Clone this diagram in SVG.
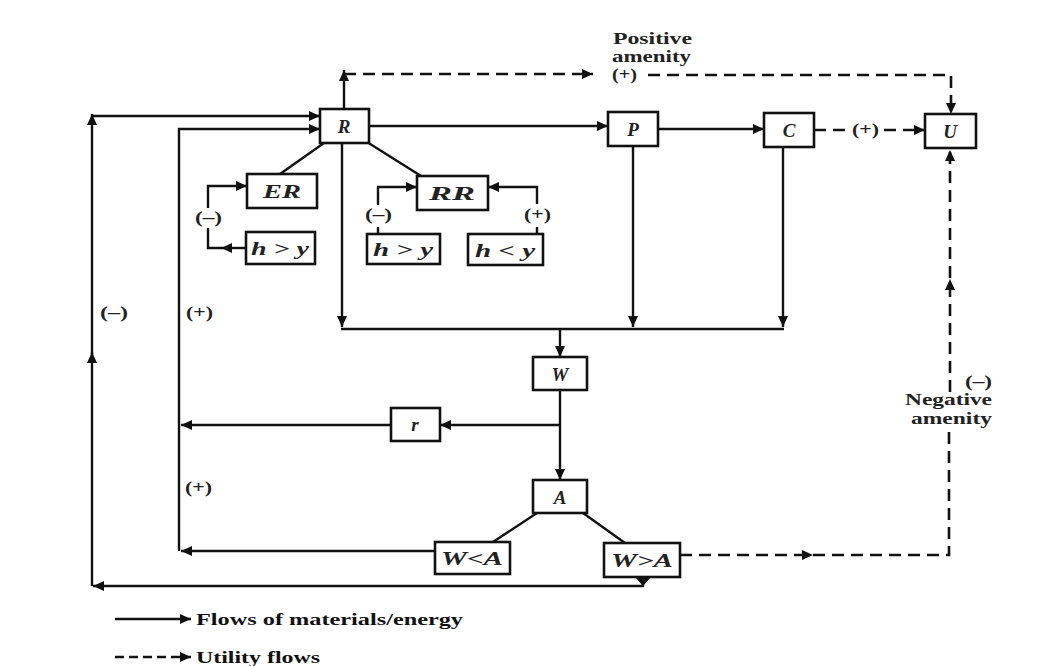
<svg xmlns="http://www.w3.org/2000/svg" width="1041" height="666" viewBox="0 0 1041 666">
<style>
.bg{fill:#fff}
.box{fill:#fff;stroke:#111;stroke-width:2.6}
.ln{fill:none;stroke:#111;stroke-width:2.4}
.ds{fill:none;stroke:#111;stroke-width:2.6;stroke-dasharray:12 7}
.ah{fill:#111}
.bt{font-family:"Liberation Serif",serif;font-weight:bold;font-style:italic;font-size:19px;fill:#222;text-anchor:middle}
.lb{font-family:"Liberation Serif",serif;font-weight:bold;font-size:16px;fill:#222}
.lg{font-family:"Liberation Serif",serif;font-weight:bold;font-size:17px;fill:#111}
</style>
<defs>
<marker id="ah" markerUnits="userSpaceOnUse" markerWidth="11" markerHeight="10" refX="11" refY="5" orient="auto">
<path d="M0,0 L11,5 L0,10 z" fill="#111"/>
</marker>
</defs>
<rect class="bg" x="0" y="0" width="1041" height="666"/>

<g id="connectors">
<path class="ln" d="M643,577 V586 H93" marker-end="url(#ah)"/>
<polygon class="ah" points="635,577 651,577 643,586"/>
<path class="ln" d="M92,586 V352" marker-end="url(#ah)"/>
<path class="ln" d="M92,354 V114" marker-end="url(#ah)"/>
<path class="ln" d="M92,116 H320" marker-end="url(#ah)"/>
<path class="ln" d="M435,551 H181" marker-end="url(#ah)"/>
<path class="ln" d="M391,425 H181" marker-end="url(#ah)"/>
<path class="ln" d="M179,551 V129 H320" marker-end="url(#ah)"/>
<path class="ln" d="M369,126 H608" marker-end="url(#ah)"/>
<path class="ln" d="M658,129 H764" marker-end="url(#ah)"/>
<path class="ds" d="M814,130 H846"/>
<path class="ds" d="M884,130 H925" marker-end="url(#ah)"/>
<path class="ln" d="M344,109 V70" marker-end="url(#ah)"/>
<path class="ds" d="M344,74 H593" marker-end="url(#ah)"/>
<path class="ds" d="M648,75 H951 V114" marker-end="url(#ah)"/>
<path class="ln" d="M324,143 L280,174"/>
<path class="ln" d="M367,142 L421,176"/>
<path class="ln" d="M246,248 H221" marker-end="url(#ah)"/>
<path class="ln" d="M222,248 H208 V228"/>
<path class="ln" d="M208,208 V186 H247" marker-end="url(#ah)"/>
<path class="ln" d="M378,234 V227"/>
<path class="ln" d="M378,205 V187 H417" marker-end="url(#ah)"/>
<path class="ln" d="M537,234 V227"/>
<path class="ln" d="M537,204 V187 H488" marker-end="url(#ah)"/>
<path class="ln" d="M342,143 V327" marker-end="url(#ah)"/>
<path class="ln" d="M341,329 H784"/>
<path class="ln" d="M633,146 V327" marker-end="url(#ah)"/>
<path class="ln" d="M783,147 V327" marker-end="url(#ah)"/>
<path class="ln" d="M560,329 V357" marker-end="url(#ah)"/>
<path class="ln" d="M560,390 V480" marker-end="url(#ah)"/>
<path class="ln" d="M560,425 H440" marker-end="url(#ah)"/>
<path class="ln" d="M537,513 L493,542"/>
<path class="ln" d="M583,513 L625,543"/>
<path class="ds" d="M680,555 H813" marker-end="url(#ah)"/>
<path class="ds" d="M813,555 H949 V432"/>
<path class="ds" d="M950,392 V150" marker-end="url(#ah)"/>
<polygon class="ah" points="945,290 955,290 950,279"/>
<path class="ln" d="M115,619 H191" marker-end="url(#ah)"/>
<path class="ds" d="M115,657 H191" marker-end="url(#ah)" style="stroke-dasharray:9 5"/>
</g>

<g id="node-R"><rect class="box" x="320" y="109" width="49" height="34"/><text class="bt" x="344" y="133">R</text></g>
<g id="node-P"><rect class="box" x="608" y="112" width="50" height="34"/><text class="bt" x="633" y="136">P</text></g>
<g id="node-C"><rect class="box" x="764" y="113" width="50" height="34"/><text class="bt" x="789" y="137">C</text></g>
<g id="node-U"><rect class="box" x="925" y="114" width="51" height="34"/><text class="bt" x="950" y="138">U</text></g>
<g id="node-ER"><rect class="box" x="247" y="174" width="70" height="34"/><text class="bt" x="282" y="198" textLength="38" lengthAdjust="spacingAndGlyphs">ER</text></g>
<g id="node-hgy1"><rect class="box" x="246" y="232" width="69" height="32"/><text class="bt" x="280" y="255" textLength="58" lengthAdjust="spacingAndGlyphs">h &gt; y</text></g>
<g id="node-RR"><rect class="box" x="417" y="176" width="71" height="34"/><text class="bt" x="452" y="200" textLength="46" lengthAdjust="spacingAndGlyphs">RR</text></g>
<g id="node-hgy2"><rect class="box" x="367" y="234" width="73" height="30"/><text class="bt" x="403" y="256" textLength="60" lengthAdjust="spacingAndGlyphs">h &gt; y</text></g>
<g id="node-hly"><rect class="box" x="468" y="234" width="75" height="31"/><text class="bt" x="505" y="257" textLength="60" lengthAdjust="spacingAndGlyphs">h &lt; y</text></g>
<g id="node-W"><rect class="box" x="533" y="357" width="54" height="33"/><text class="bt" x="560" y="381">W</text></g>
<g id="node-r"><rect class="box" x="391" y="408" width="49" height="33"/><text class="bt" x="415" y="431">r</text></g>
<g id="node-A"><rect class="box" x="533" y="480" width="54" height="33"/><text class="bt" x="560" y="504">A</text></g>
<g id="node-WlA"><rect class="box" x="435" y="542" width="75" height="32"/><text class="bt" x="472" y="565" textLength="62" lengthAdjust="spacingAndGlyphs">W&lt;A</text></g>
<g id="node-WgA"><rect class="box" x="604" y="543" width="76" height="34"/><text class="bt" x="642" y="567" textLength="62" lengthAdjust="spacingAndGlyphs">W&gt;A</text></g>

<g id="labels">
<text class="lb" x="613" y="44" textLength="79" lengthAdjust="spacingAndGlyphs">Positive</text>
<text class="lb" x="612" y="62" textLength="79" lengthAdjust="spacingAndGlyphs">amenity</text>
<text class="lb" x="612" y="80" textLength="25" lengthAdjust="spacingAndGlyphs">(+)</text>
<text class="lb" x="852" y="135" textLength="27" lengthAdjust="spacingAndGlyphs">(+)</text>
<text class="lb" x="195" y="223" textLength="27" lengthAdjust="spacingAndGlyphs">(–)</text>
<text class="lb" x="365" y="220" textLength="27" lengthAdjust="spacingAndGlyphs">(–)</text>
<text class="lb" x="524" y="220" textLength="27" lengthAdjust="spacingAndGlyphs">(+)</text>
<text class="lb" x="100" y="318" textLength="28" lengthAdjust="spacingAndGlyphs">(–)</text>
<text class="lb" x="186" y="318" textLength="27" lengthAdjust="spacingAndGlyphs">(+)</text>
<text class="lb" x="185" y="493" textLength="27" lengthAdjust="spacingAndGlyphs">(+)</text>
<text class="lb" x="965" y="387" textLength="27" lengthAdjust="spacingAndGlyphs">(–)</text>
<text class="lb" x="905" y="405" textLength="87" lengthAdjust="spacingAndGlyphs">Negative</text>
<text class="lb" x="911" y="424" textLength="81" lengthAdjust="spacingAndGlyphs">amenity</text>
<text class="lg" x="196" y="625" textLength="267" lengthAdjust="spacingAndGlyphs">Flows of materials/energy</text>
<text class="lg" x="196" y="663" textLength="124" lengthAdjust="spacingAndGlyphs">Utility flows</text>
</g>
</svg>
